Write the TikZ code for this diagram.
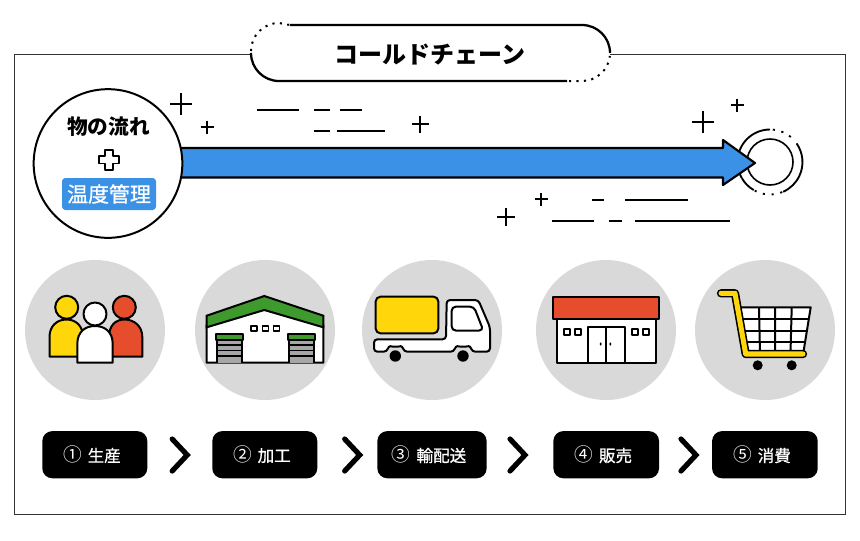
\documentclass[tikz,border=0pt]{standalone}
\usepackage{fontspec}
\newfontfamily\jp{Noto Sans CJK JP}
\newfontfamily\jpm{Noto Sans CJK JP}[FakeBold=0.9]
\definecolor{bluef}{HTML}{3B91E6}
\definecolor{grayc}{HTML}{D9D9D9}
\definecolor{yel}{HTML}{FFD60A}
\definecolor{redc}{HTML}{E64D2C}
\definecolor{grn}{HTML}{3F9A2E}
\definecolor{shut}{HTML}{A6A6A6}
\tikzset{
 ln/.style={line width=1.5pt,line join=round},
 deco/.style={line width=1.2pt},
 tcirc/.style={circle,fill=grayc,minimum size=105pt,inner sep=0pt},
 badge/.style={fill=black,rounded corners=7.5pt,text=white,font=\jpm\fontsize{12.4pt}{14pt}\selectfont,inner sep=0pt,minimum height=35.4pt,anchor=center},
 chev/.style={line width=3.9pt,line cap=round,line join=miter},
 win/.style={ln,fill=white,line width=1.2pt},
}
\newcommand{\plusm}[3]{\draw[deco] (#1-#3,#2) -- (#1+#3,#2) (#1,#2-#3) -- (#1,#2+#3);}
\newcommand{\numc}[1]{{\jp\fontsize{14pt}{14pt}\selectfont #1}\hspace{4.5pt}}
\newcommand{\shiftl}{\hspace*{-2.2pt}}
\begin{document}
\begin{tikzpicture}[x=0.75pt,y=-0.75pt]
\useasboundingbox (0,0) rectangle (860,540);
% frame
\draw[line width=0.75pt,draw=black!80] (14.5,54) rectangle (845.5,514);
% title pill
\fill[white] (279,25) -- (582,25) arc[start angle=-90,end angle=90,radius=28] -- (279,81) arc[start angle=90,end angle=270,radius=28] -- cycle;
\draw[ln,line width=1.7pt] (290,25) -- (582,25) arc[start angle=-90,end angle=0,radius=28];
\draw[ln,line width=1.7pt] (567,81) -- (279,81) arc[start angle=90,end angle=180,radius=28];
\draw[line width=1.5pt,dash pattern=on 1.6pt off 4pt] (251,51) arc[start angle=180,end angle=270,radius=28] -- (290,25);
\draw[line width=1.5pt,dash pattern=on 1.6pt off 4pt] (569,81) -- (582,81) arc[start angle=90,end angle=6,radius=28];
\node[font=\jp\bfseries\fontsize{18pt}{20pt}\selectfont,inner sep=0pt] (title) at (430,54.5) {コールドチェーン};
% decorative marks
\plusm{181}{104}{11}
\plusm{207}{127}{6.5}
\plusm{420}{124}{8.5}
\plusm{703}{122}{11}
\plusm{737}{105}{6.5}
\plusm{541}{199}{6.5}
\plusm{506}{217}{9}
\draw[deco] (257,109.9) -- (299,109.9) (314,109.9) -- (330,109.9) (340,109.9) -- (362,109.9);
\draw[deco] (314,131) -- (330,131) (337,131) -- (385,131);
\draw[deco] (592,200) -- (604,200) (625,200) -- (688,200);
\draw[deco] (552,221) -- (594,221) (609,221) -- (622,221) (635,221) -- (730,221);
% end circles
\node[circle,draw,line width=1.2pt,minimum size=34.5pt,inner sep=0pt] (goal) at (770,162) {};
\draw[line width=1.4pt] (770,129.5) arc[start angle=-90,end angle=-210,radius=32.5];
\draw[line width=1.4pt] (796.6,143.4) arc[start angle=-35,end angle=66,radius=32.5];
\draw[line width=1.4pt] (753.75,190.1) arc[start angle=120,end angle=150,radius=32.5];
\draw[line width=1.4pt,dash pattern=on 1.6pt off 5pt] (772.8,129.6) arc[start angle=-85,end angle=-40,radius=32.5];
\draw[line width=1.4pt,dash pattern=on 1.6pt off 5pt] (782.2,192.1) arc[start angle=68,end angle=118,radius=32.5];
% main arrow
\coordinate (tip) at (755,163);
\draw[ln,fill=bluef,line width=1.6pt,miter limit=10] (150,148) -- (723,148) -- (723,140) -- (tip) -- (723,185) -- (723,177.5) -- (150,177.5) -- cycle;
% start circle
\node[circle,draw,fill=white,line width=1.5pt,minimum size=111.5pt,inner sep=0pt] (start) at (108,163.5) {};
\node[font=\jp\bfseries\fontsize{15.5pt}{18pt}\selectfont,inner sep=0pt] (flow) at (108.5,127) {物の流れ};
\node[fill=bluef,rounded corners=2.5pt,minimum width=70.5pt,minimum height=24pt,inner sep=0pt,text=white,font=\jpm\fontsize{15.7pt}{18pt}\selectfont] (temp) at (109,194) {温度管理};
\draw[line width=1.4pt,fill=white,line join=round] (105,150) -- (112.7,150) -- (112.7,156) -- (119,156) -- (119,163.5) -- (112.7,163.5) -- (112.7,170) -- (105,170) -- (105,163.5) -- (98.7,163.5) -- (98.7,156) -- (105,156) -- cycle;
% grey circles
\node[tcirc] (c1) at (95,330) {};
\node[tcirc] (c2) at (265,330) {};
\node[tcirc] (c3) at (432,330) {};
\node[tcirc] (c4) at (606,330) {};
\node[tcirc] (c5) at (765,330) {};
% people
\draw[ln,fill=yel] (49.5,356.7) -- (49.5,337) .. controls (49.5,326) and (57,319.5) .. (66.5,319.5) .. controls (76,319.5) and (83,326) .. (83,337) -- (83,356.7) -- cycle;
\draw[ln,fill=yel] (66.7,307.3) circle[radius=11.5];
\draw[ln,fill=redc] (109,356.7) -- (109,337) .. controls (109,326) and (115,319.5) .. (124.5,319.5) .. controls (134,319.5) and (142.3,326) .. (142.3,337) -- (142.3,356.7) -- cycle;
\draw[ln,fill=redc] (124.3,307.3) circle[radius=11.5];
\draw[ln,fill=white] (77.3,362.7) -- (77.3,344) .. controls (77.3,332) and (85,326) .. (95,326) .. controls (105,326) and (112.7,332) .. (112.7,344) -- (112.7,362.7) -- cycle;
\draw[ln,fill=white] (95,314) circle[radius=11.5];
% warehouse
\draw[ln,fill=white] (206.7,325) -- (206.7,362.7) -- (323.3,362.7) -- (323.3,325) -- (264.3,305) -- cycle;
\draw[ln,fill=grn,line join=miter] (206.7,315.7) -- (264.3,296) -- (323.3,315.7) -- (323.3,327.3) -- (264.3,310) -- (206.7,327.3) -- cycle;
\foreach \wx in {250.7,262.3,273.3} \draw[win] (\wx,325.7) rectangle +(6,5.5);
\foreach \dx in {216,288}{
 \fill[shut] (\dx+1,340) rectangle (\dx+26,362.7);
 \foreach \sy in {345,350.5,356} \draw[line width=1pt] (\dx+1,\sy) -- (\dx+26,\sy);
 \draw[ln] (\dx+1,340) -- (\dx+1,362.7) (\dx+26,340) -- (\dx+26,362.7);
 \draw[ln,fill=grn] (\dx,334) rectangle (\dx+27,340);
}
% truck
\draw[ln,fill=white,rounded corners=2.5pt] (374,339.3) -- (374,351.7) -- (387,351.7) .. controls (389,345) and (392,346.5) .. (395.3,346.5) .. controls (399,346.5) and (402,345) .. (404,351.7) -- (454,351.7) .. controls (456,345) and (459,346.5) .. (463,346.5) .. controls (467,346.5) and (470,345) .. (472,351.7) -- (490,351.7) -- (490,327.3) -- (478.3,300) -- (446.7,300) -- (446,339.3) -- cycle;
\draw[ln,fill=yel,rounded corners=3.5pt] (375.7,296.7) rectangle (438.3,333.3);
\draw[ln,fill=white,rounded corners=3pt] (451.7,306.7) -- (474,306.7) -- (483.3,330.5) -- (451.7,330.5) -- cycle;
\fill (395.3,356) circle[radius=5.7];
\fill (463,356) circle[radius=5.7];
% store
\draw[ln,fill=white] (556.7,319.3) rectangle (655.7,362.7);
\draw[ln,fill=redc] (553.3,296.7) rectangle (659.3,319.3);
\draw[ln,fill=white] (587.7,326.7) rectangle (625,362.7);
\draw[ln] (606,326.7) -- (606,362.7);
\fill (600.7,344) ellipse[x radius=1,y radius=1.8];
\fill (610.3,344) ellipse[x radius=1,y radius=1.8];
\foreach \wx in {563.7,574.7,631.7,642.7} \draw[win] (\wx,329) rectangle +(6,6);
% cart
\fill[white] (738,307.3) -- (810.7,307.3) -- (803.3,354) -- (746,354) -- cycle;
\draw[ln] (738,307.3) -- (810.7,307.3) -- (803.3,353);
\draw[ln] (740,319) -- (808.8,319) (742,331) -- (807,331) (744,342) -- (805,342);
\draw[ln] (759,307.3) -- (760,353) (775,307.3) -- (775,353) (791.7,307.3) -- (790.5,353);
\draw[line width=6.2pt,line cap=round,line join=round] (721,293.3) -- (735,293.3) -- (745.7,354) -- (803,354);
\draw[line width=3.8pt,line cap=round,line join=round,draw=yel] (721,293.3) -- (735,293.3) -- (745.7,354) -- (803,354);
\fill (757.7,365.3) circle[radius=5];
\fill (791.7,365.3) circle[radius=5];
% badges
\node[badge,minimum width=78.75pt] (b1) at (94.8,454.7) {\shiftl\numc{①}生産\hspace*{2.2pt}};
\node[badge,minimum width=78.75pt] (b2) at (264.8,454.7) {\shiftl\numc{②}加工\hspace*{2.2pt}};
\node[badge,minimum width=82pt] (b3) at (432,454.7) {\shiftl\numc{③}輸配送\hspace*{2.2pt}};
\node[badge,minimum width=79.25pt] (b4) at (606.2,454.7) {\shiftl\numc{④}販売\hspace*{2.2pt}};
\node[badge,minimum width=79.25pt] (b5) at (764.9,454.7) {\shiftl\numc{⑤}消費\hspace*{2.2pt}};
% chevrons
\foreach \cx in {172.2,344.7,510,681} \draw[chev] (\cx,439) -- (\cx+15,455) -- (\cx,471);
\end{tikzpicture}
\end{document}
